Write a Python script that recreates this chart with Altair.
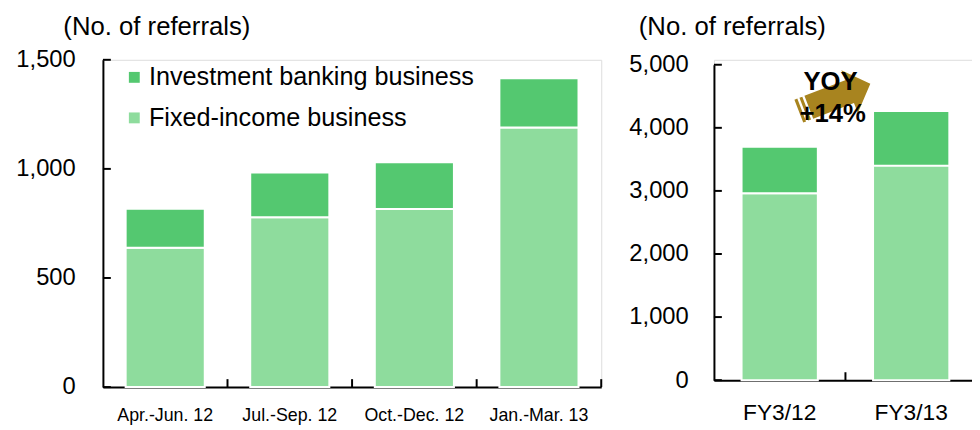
import altair as alt
import pandas as pd

FONT = "Liberation Sans"

# ---- data ----
quarters = ["Apr.-Jun. 12", "Jul.-Sep. 12", "Oct.-Dec. 12", "Jan.-Mar. 13"]
fixed_q = [639, 778, 816, 1190]
ib_q = [178, 205, 214, 225]

years = ["FY3/12", "FY3/13"]
fixed_y = [2962, 3401]
ib_y = [737, 867]

left_ticks = [0, 500, 1000, 1500]
right_ticks = [0, 1000, 2000, 3000, 4000, 5000]

series = ["Investment banking business", "Fixed-income business"]
colors = ["#54C870", "#8EDC9D"]
unit_label = "(No. of referrals)"
yoy_text = ["YOY", "+14%"]
arrow_color = "#A8841F"

ARROW = ("M -0.72 -0.32 L 0.42 -0.32 L 0.42 -0.6 L 1 0 L 0.42 0.6 L 0.42 0.32 L -0.72 0.32 Z "
         "M -0.86 -0.32 L -0.78 -0.32 L -0.78 0.32 L -0.86 0.32 Z "
         "M -1 -0.32 L -0.92 -0.32 L -0.92 0.32 L -1 0.32 Z")


def stacked(cats, fixed, ib):
    n = len(cats)
    return pd.DataFrame({
        "cat": cats * 2,
        "series": [series[1]] * n + [series[0]] * n,
        "value": fixed + ib,
        "ord": [0] * n + [1] * n,
    })


color_scale = alt.Scale(domain=series, range=colors)


def panel(cats, fixed, ib, ticks, w, h, yrange, ymax, pad_in, xfont, xpad, yfont, ypad,
          legend, title_x):
    df = stacked(cats, fixed, ib)
    yscale = alt.Scale(domain=[0, ymax], nice=False, zero=True, range=yrange)
    bars = alt.Chart(df).mark_bar(stroke="white", strokeWidth=2).encode(
        x=alt.X("cat:N", sort=cats, title=None,
                scale=alt.Scale(paddingInner=pad_in, paddingOuter=pad_in / 2),
                axis=alt.Axis(labelAngle=0, labelFontSize=xfont, labelPadding=xpad,
                              labelColor="black", ticks=False, tickSize=0,
                              domainColor="black", domainWidth=2, labelFont=FONT)),
        y=alt.Y("value:Q", stack="zero", title=None, scale=yscale,
                axis=alt.Axis(values=ticks, format=",d", ticks=False, tickSize=0,
                              labelPadding=ypad, labelFontSize=yfont, labelColor="black",
                              domainColor="black", domainWidth=2, grid=False,
                              labelFont=FONT)),
        color=alt.Color("series:N", scale=color_scale, legend=legend),
        order=alt.Order("ord:Q", sort="ascending"),
    )
    ytick = alt.Chart(pd.DataFrame({"t": ticks})).mark_rule(color="black", strokeWidth=2).encode(
        y=alt.Y("t:Q", title=None),
        x=alt.value(0), x2=alt.value(8),
    )
    xtick = alt.Chart(pd.DataFrame({"cat": cats})).mark_rule(color="black", strokeWidth=2).encode(
        x=alt.X("cat:N", sort=cats, bandPosition=1,
                scale=alt.Scale(paddingInner=0, paddingOuter=0), axis=None),
        y=alt.value(h - 8), y2=alt.value(h),
    )
    title = alt.Chart(pd.DataFrame({"t": [unit_label]})).mark_text(
        align="left", baseline="middle", fontSize=26, font=FONT, color="black"
    ).encode(text="t:N", x=alt.value(title_x), y=alt.value(-33))
    return bars, ytick, xtick, title


LH = 331
lb, lyt, lxt, ltitle = panel(
    quarters, fixed_q, ib_q, left_ticks, 504, LH, [LH, 0], 1500, 0.365,
    18, 20, 24, 28,
    alt.Legend(title=None, orient="none", legendX=19, legendY=5, symbolType="square",
               symbolSize=121, symbolStrokeWidth=0, symbolOpacity=1, labelFontSize=25.5,
               labelFont=FONT, labelColor="black", labelOffset=2, rowPadding=14,
               padding=0, labelLimit=600),
    -40,
)
left = alt.layer(lb, lyt, lxt, ltitle).resolve_scale(x="independent").properties(
    width=504, height=LH)

RH = 324
rb, ryt, rxt, rtitle = panel(
    years, fixed_y, ib_y, right_ticks, 266, RH, [RH, 5], 5000, 0.42,
    23, 22, 24, 26, None, -76,
)
arrow = alt.Chart(pd.DataFrame({"a": [1]})).mark_point(
    shape=ARROW, filled=True, color=arrow_color, opacity=1, size=6000, angle=339,
    strokeWidth=0,
).encode(x=alt.value(122), y=alt.value(38))
yoy1 = alt.Chart(pd.DataFrame({"t": [yoy_text[0]]})).mark_text(
    align="center", baseline="middle", fontSize=26, fontWeight="bold", font=FONT, color="black"
).encode(text="t:N", x=alt.value(118), y=alt.value(23))
yoy2 = alt.Chart(pd.DataFrame({"t": [yoy_text[1]]})).mark_text(
    align="center", baseline="middle", fontSize=26, fontWeight="bold", font=FONT, color="black"
).encode(text="t:N", x=alt.value(120), y=alt.value(55))

right = alt.layer(rb, ryt, rxt, rtitle, arrow, yoy1, yoy2).resolve_scale(
    x="independent").properties(width=266, height=RH)

chart = alt.hconcat(left, right, spacing=25).resolve_scale(
    color="independent"
).configure_view(strokeWidth=0).configure(font=FONT).properties(
    padding={"left": 7, "top": 3, "right": -7, "bottom": 0}
)

chart.save("out.html", embed_options={"renderer": "svg", "actions": False})
